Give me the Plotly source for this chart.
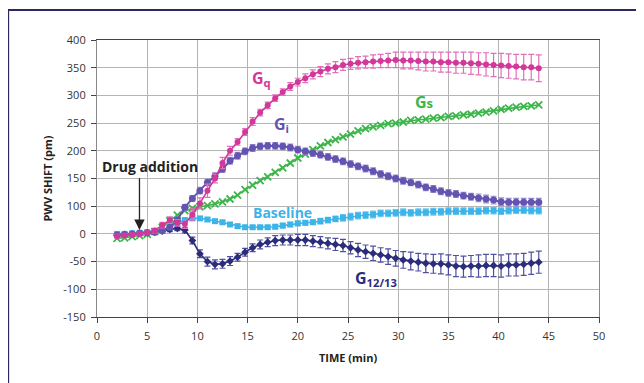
import plotly.graph_objects as go

# Sampling times (min)
time_min = [2.0, 2.75, 3.5, 4.25, 5.0, 5.75, 6.5, 7.25, 8.0, 8.75, 9.5, 10.25, 11.0, 11.75,
            12.5, 13.25, 14.0, 14.75, 15.5, 16.25, 17.0, 17.75, 18.5, 19.25, 20.0, 20.75,
            21.5, 22.25, 23.0, 23.75, 24.5, 25.25, 26.0, 26.75, 27.5, 28.25, 29.0, 29.75,
            30.5, 31.25, 32.0, 32.75, 33.5, 34.25, 35.0, 35.75, 36.5, 37.25, 38.0, 38.75,
            39.5, 40.25, 41.0, 41.75, 42.5, 43.25, 44.0]

# Values in axis-position units (gridlines every 50; tick labels below)
gq = [-4, -3, -2, 0, 2, 6, 16, 25, 20, 18, 35, 55, 78, 100, 128, 150, 166, 184, 203, 219,
      232, 245, 256, 266, 274, 281, 288, 293, 298, 301, 305, 307, 309, 310, 311, 312, 313,
      314, 313, 313, 312, 311, 311, 310, 310, 309, 309, 308, 307, 306, 305, 304, 303, 302,
      301, 301, 299]
gq_err = [3, 3, 3, 3, 3, 4, 5, 6, 6, 8, 10, 10, 12, 8, 10, 8, 6, 6, 7, 6, 6, 6, 6, 7, 7,
          8, 8, 9, 9, 10, 10, 10, 11, 11, 12, 12, 13, 14, 15, 15, 16, 17, 17, 18, 18, 19,
          19, 20, 20, 21, 21, 22, 22, 22, 23, 23, 24]

gi = [-2, -1, 0, 1, 2, 3, 6, 12, 25, 48, 64, 78, 93, 104, 117, 132, 141, 149, 155, 158,
      159, 159, 158, 156, 152, 149, 146, 143, 139, 135, 131, 126, 122, 118, 113, 108, 104,
      100, 96, 93, 89, 84, 81, 77, 74, 72, 69, 67, 65, 63, 61, 58, 57, 57, 57, 57, 57]
gi_err = [3, 3, 3, 3, 3, 3, 4, 4, 5, 5, 5, 6, 6, 6, 6, 6, 6, 6, 6, 6, 6, 6, 6, 6, 6, 6,
          6, 6, 6, 6, 6, 6, 6, 6, 6, 6, 6, 6, 6, 6, 6, 6, 6, 6, 6, 6, 6, 6, 7, 7, 7, 7, 7,
          7, 7, 7, 7]

gs = [-8, -7, -5, -3, -1, 4, 12, 24, 34, 42, 46, 49, 51, 54, 58, 63, 70, 80, 88, 96, 103,
      111, 119, 128, 137, 144, 152, 159, 165, 170, 175, 180, 186, 190, 193, 196, 199, 200,
      202, 205, 206, 207, 209, 210, 212, 213, 215, 216, 218, 220, 222, 225, 227, 229, 230,
      231, 233]

baseline = [0, 0, 1, 2, 3, 5, 7, 12, 20, 25, 28, 28, 26, 23, 21, 17, 14, 12, 12, 12, 12,
            13, 15, 17, 19, 20, 21, 23, 25, 27, 29, 31, 33, 34, 35, 37, 37, 38, 39, 38, 39,
            39, 40, 40, 41, 41, 41, 41, 41, 42, 42, 41, 42, 43, 43, 42, 42]
baseline_err = [2, 2, 2, 2, 2, 2, 3, 3, 3, 3, 3, 3, 3, 3, 3, 3, 3, 3, 3, 3, 3, 4, 4, 4, 4,
                4, 4, 5, 5, 5, 6, 6, 6, 6, 6, 6, 6, 6, 6, 6, 6, 6, 6, 6, 6, 6, 6, 6, 6, 6,
                6, 6, 6, 6, 6, 6, 6]

g1213 = [-2, -1, 0, 1, 2, 3, 5, 8, 10, 7, -12, -36, -50, -55, -54, -49, -42, -33, -25,
         -19, -15, -12, -11, -11, -11, -11, -13, -15, -17, -19, -21, -25, -29, -32, -35,
         -38, -41, -44, -47, -49, -51, -53, -54, -54, -56, -58, -59, -58, -58, -57, -57,
         -58, -56, -56, -55, -53, -51]
g1213_err = [3, 3, 3, 3, 3, 3, 3, 4, 4, 5, 6, 7, 8, 8, 8, 8, 7, 7, 7, 8, 8, 9, 9, 9, 10,
             10, 10, 10, 10, 11, 11, 11, 12, 12, 13, 13, 14, 14, 15, 16, 16, 17, 17, 18, 18,
             19, 19, 19, 20, 20, 20, 20, 20, 20, 20, 20, 20]

y_tickvals = [-150, -100, -50, 0, 50, 100, 150, 200, 250, 300, 350]
y_ticktext = ["-150", "-100", "-50", "0", "100", "150", "200", "250", "300", "350", "400"]
x_tickvals = [0, 5, 10, 15, 20, 25, 30, 35, 40, 45, 50]

FONT = "Open Sans"

fig = go.Figure()

def add(y, err, color, ecolor, symbol, size, name, lw=1.6, mline=None):
    marker = dict(color=color, symbol=symbol, size=size)
    if mline:
        marker["line"] = mline
    fig.add_trace(go.Scatter(
        x=time_min, y=y, mode="lines+markers", name=name,
        line=dict(color=color, width=lw), marker=marker,
        error_y=dict(type="data", array=err, visible=True,
                     color=ecolor, thickness=1.2, width=3) if err is not None else None,
        showlegend=False))

add(g1213, g1213_err, "#2c2c7c", "#5050a0", "diamond", 6, "G12/13")
add(baseline, baseline_err, "#3db4e8", "#6cc8f0", "square", 6, "Baseline")
add(gs, None, "#3cb54a", None, "x-thin-open", 7, "Gs", mline=dict(color="#3cb54a", width=1.8))
add(gi, gi_err, "#6453b0", "#9a8fd2", "circle", 7, "Gi", lw=2)
add(gq, gq_err, "#d2389b", "#e070b8", "circle", 6, "Gq")

annotations = [
    dict(x=16.4, y=280, text="<b>G<sub>q</sub></b>", font=dict(family=FONT, size=16, color="#d2389b")),
    dict(x=18.4, y=197, text="<b>G<sub style='font-size:13px'>i</sub></b>", font=dict(family=FONT, size=16, color="#6453b0")),
    dict(x=32.6, y=238, text="<b>G<span style='font-size:13px'>s</span></b>", font=dict(family=FONT, size=16, color="#3cb54a")),
    dict(x=18.5, y=38, text="<b>Baseline</b>", font=dict(family=FONT, size=14, color="#3db4e8")),
    dict(x=27.8, y=-81, text="<b>G<sub>12/13</sub></b>", font=dict(family=FONT, size=16, color="#2c2c7c")),
    dict(x=5.3, y=121, text="<b>Drug addition</b>", font=dict(family=FONT, size=14, color="#222222")),
]
for a in annotations:
    a.update(xref="x", yref="y", showarrow=False)
annotations.append(dict(x=4.23, y=7, ax=4.23, ay=103, xref="x", yref="y", axref="x", ayref="y",
                        showarrow=True, arrowhead=2, arrowsize=1.6, arrowwidth=1.3,
                        arrowcolor="#222222", text=""))

# The page body adds an 8 px offset; margins compensate so the plot sits where the reference has it.
fig.update_layout(
    width=644, height=383,
    margin=dict(l=89, r=53, t=32, b=74, autoexpand=False),
    paper_bgcolor="white", plot_bgcolor="white",
    font=dict(family=FONT, size=11, color="#333333"),
    annotations=annotations,
    shapes=[dict(type="rect", xref="paper", yref="paper",
                 x0=-0.177, x1=1.3, y0=-0.4, y1=1.108,
                 line=dict(color="#2b2a60", width=2), layer="below")],
)
fig.update_xaxes(range=[0, 50], tickvals=x_tickvals, ticks="outside", ticklen=5,
                 tickcolor="#444", showgrid=True, gridcolor="#b4b4b4", gridwidth=1,
                 showline=True, linecolor="#444", linewidth=1.2, mirror=True, zeroline=False,
                 automargin=False, ticklabelstandoff=4,
                 title=dict(text="<b>TIME (min)</b>", font=dict(size=11, color="#222"), standoff=12))
fig.update_yaxes(range=[-150, 350], tickvals=y_tickvals, ticktext=y_ticktext, ticks="outside",
                 ticklen=5, tickcolor="#444", showgrid=True, gridcolor="#b4b4b4", gridwidth=1,
                 showline=True, linecolor="#888", linewidth=1.2, mirror=True, zeroline=False,
                 automargin=False, ticklabelstandoff=3,
                 title=dict(text="<b>PWV SHIFT (pm)</b>", font=dict(size=11, color="#222"), standoff=8))

fig.write_html("out.html")
